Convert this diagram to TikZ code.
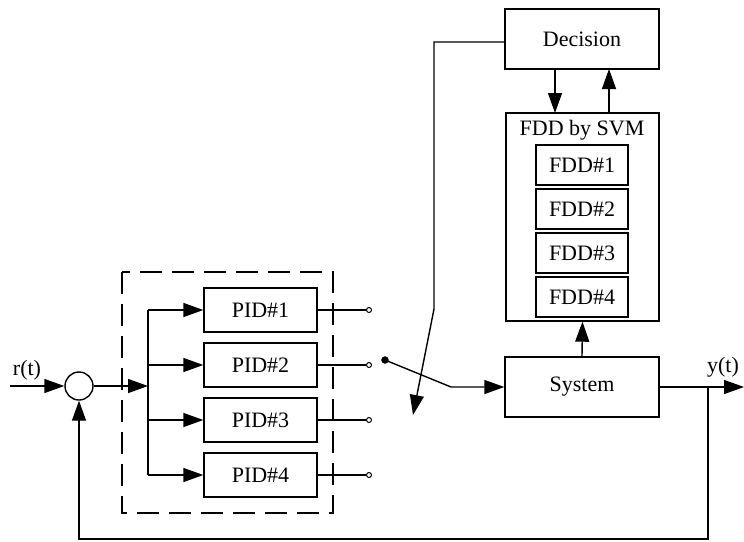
\documentclass[tikz,border=0pt]{standalone}
\usepackage{fontspec}
\setmainfont{Liberation Serif}
\usetikzlibrary{arrows.meta,calc}
\begin{document}
\begin{tikzpicture}[x=1pt,y=-1pt,
  line width=1.4pt,
  every node/.style={font=\fontsize{22}{26}\selectfont},
  blk/.style={draw,rectangle,inner sep=0pt,align=center},
  arr/.style={-{Triangle[length=20pt,width=14pt]}},
  contact/.style={draw,circle,fill=white,inner sep=0pt,minimum size=5pt,line width=1pt},
  dashbox/.style={draw,dash pattern=on 22pt off 10pt}]
\useasboundingbox (0,0) rectangle (744,541);
% dashed group
\draw[dashbox] (122,272) rectangle (333,513);
% sum junction
\node[draw,circle,minimum size=28pt,inner sep=0pt] (sum) at (79,386) {};
\coordinate (rin) at (10,386);
\node (rlab) at (27,370) {r(t)};
\draw[arr] (rin) -- (sum.west);
% branch
\coordinate (br) at (148,386);
\coordinate (brtop) at (148,310);
\coordinate (brbot) at (148,475);
\draw[arr] (sum.east) -- (br);
\draw (brtop) -- (brbot);
% PIDs and contacts
\foreach \i/\y in {1/310,2/365,3/420,4/475}{
  \node[blk,minimum width=113pt,minimum height=44pt] (pid\i) at (260.5,\y) {PID\#\i};
  \node[contact] (c\i) at (369,\y) {};
  \coordinate (b\i) at (148,\y);
  \draw[arr] (b\i) -- (pid\i.west);
  \draw (pid\i.east) -- (c\i.west);
}
% switch
\node[draw,circle,fill=black,inner sep=0pt,minimum size=6pt] (sw) at (385,360) {};
\coordinate (swk) at (451,387);
% system
\node[blk,minimum width=154pt,minimum height=60pt] (sys) at (582,387) {System};
\draw[arr] (sw.center) -- (swk) -- (sys.west);
% FDD
\node[blk,minimum width=153pt,minimum height=208pt] (fdd) at (582.5,217) {};
\node (fddlab) at (582,130) {FDD by SVM};
\foreach \i/\y in {1/165,2/209,3/253,4/297}{
  \node[blk,minimum width=92pt,minimum height=40pt] (f\i) at (582,\y) {FDD\#\i};
}
\draw[arr] (sys.north) -- (fdd.south);
% decision
\node[blk,minimum width=154pt,minimum height=60pt] (dec) at (582,39) {Decision};
\coordinate (dd1) at (555,69);
\coordinate (dd2) at (555,113);
\coordinate (du1) at (609,113);
\coordinate (du2) at (609,69);
\draw[arr] (dd1) -- (dd2);
\draw[arr] (du1) -- (du2);
\coordinate (dl) at (505,42);
\coordinate (dk1) at (434,42);
\coordinate (dk2) at (434,309);
\coordinate (dtip) at (413,415);
\draw[arr] (dl) -- (dk1) -- (dk2) -- (dtip);
% output and feedback
\coordinate (out) at (744,387);
\coordinate (tap) at (708,387);
\coordinate (fb1) at (708,539);
\coordinate (fb2) at (79,539);
\node (ylab) at (723,367) {y(t)};
\draw[arr] (sys.east) -- (out);
\draw[arr] (tap) -- (fb1) -- (fb2) -- (sum.south);
\end{tikzpicture}
\end{document}
